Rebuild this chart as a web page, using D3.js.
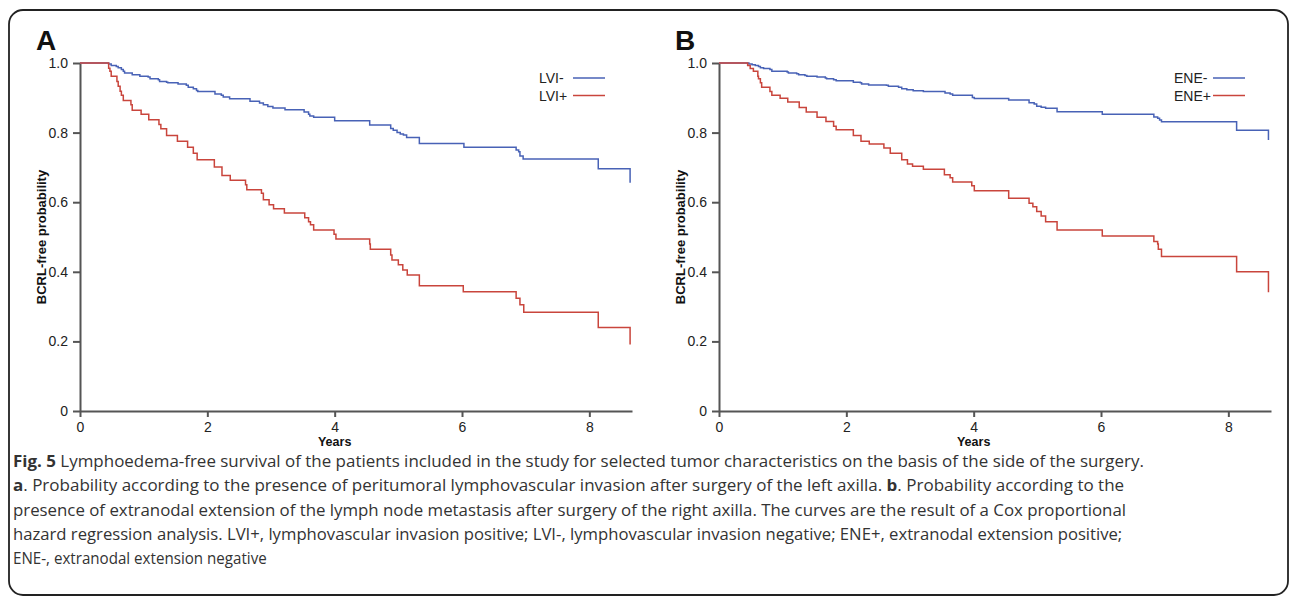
<!DOCTYPE html>
<html>
<head>
<meta charset="utf-8">
<script src="https://cdn.jsdelivr.net/npm/d3@7"></script>
<style>
  body { margin: 0; background: #fff; }
  svg { display: block; }
  .tick text { font-family: Arial, "Liberation Sans", sans-serif; font-size: 14px; fill: #222; }
  .domain, .tick line { stroke: #555; }
</style>
</head>
<body>
<svg id="chart" width="1290" height="597"></svg>
<script>
// tick values
var yearTicks = [0, 2, 4, 6, 8];
var probTicks = [0, 0.2, 0.4, 0.6, 0.8, 1.0];

// KM steps: [years, probability after the event]
var lviNeg = [[0,1],[0.45,0.997],[0.49,0.993],[0.57,0.990],[0.60,0.986],[0.65,0.981],[0.68,0.976],[0.70,0.971],[0.82,0.966],[0.94,0.962],[1.07,0.960],[1.10,0.955],[1.23,0.952],[1.25,0.947],[1.36,0.945],[1.38,0.943],[1.54,0.940],[1.67,0.936],[1.70,0.930],[1.78,0.926],[1.83,0.921],[1.85,0.918],[2.12,0.911],[2.22,0.907],[2.25,0.902],[2.35,0.897],[2.67,0.890],[2.82,0.885],[2.88,0.880],[2.95,0.875],[3.03,0.871],[3.22,0.866],[3.52,0.859],[3.59,0.853],[3.61,0.848],[3.67,0.844],[4.00,0.834],[4.55,0.822],[4.88,0.812],[4.92,0.807],[4.98,0.800],[5.03,0.796],[5.08,0.793],[5.13,0.786],[5.33,0.769],[6.03,0.758],[6.85,0.750],[6.89,0.745],[6.91,0.733],[6.96,0.724],[8.14,0.696],[8.64,0.656]];
var lviPos = [[0,1],[0.45,0.985],[0.47,0.976],[0.49,0.962],[0.58,0.947],[0.60,0.933],[0.63,0.919],[0.65,0.907],[0.68,0.892],[0.80,0.880],[0.82,0.864],[0.96,0.853],[1.08,0.837],[1.24,0.823],[1.27,0.811],[1.36,0.792],[1.53,0.775],[1.69,0.758],[1.78,0.741],[1.84,0.722],[2.11,0.701],[2.23,0.677],[2.36,0.663],[2.60,0.650],[2.62,0.636],[2.85,0.626],[2.88,0.607],[2.97,0.593],[3.04,0.581],[3.21,0.569],[3.53,0.555],[3.59,0.544],[3.62,0.535],[3.67,0.520],[3.99,0.508],[4.02,0.494],[4.55,0.480],[4.56,0.465],[4.88,0.448],[4.90,0.434],[5.00,0.420],[5.07,0.405],[5.14,0.391],[5.33,0.360],[6.02,0.343],[6.85,0.324],[6.91,0.305],[6.97,0.284],[8.14,0.240],[8.64,0.191]];
var eneNeg = [[0,1],[0.47,0.997],[0.52,0.995],[0.57,0.993],[0.62,0.990],[0.65,0.986],[0.70,0.984],[0.80,0.981],[0.83,0.976],[1.07,0.974],[1.09,0.971],[1.22,0.969],[1.25,0.966],[1.35,0.964],[1.38,0.962],[1.54,0.960],[1.67,0.957],[1.69,0.955],[1.80,0.952],[1.84,0.949],[2.11,0.945],[2.22,0.943],[2.24,0.940],[2.35,0.937],[2.63,0.936],[2.66,0.933],[2.82,0.930],[2.87,0.926],[2.95,0.923],[3.05,0.920],[3.21,0.918],[3.55,0.914],[3.63,0.911],[3.67,0.907],[3.98,0.901],[4.01,0.898],[4.55,0.894],[4.87,0.886],[4.95,0.882],[4.99,0.876],[5.06,0.873],[5.13,0.870],[5.31,0.860],[6.02,0.853],[6.83,0.845],[6.89,0.841],[6.92,0.836],[6.95,0.831],[8.13,0.807],[8.63,0.779]];
var enePos = [[0,1],[0.45,0.993],[0.49,0.984],[0.54,0.976],[0.61,0.962],[0.62,0.955],[0.65,0.943],[0.67,0.930],[0.80,0.918],[0.83,0.907],[0.96,0.899],[1.08,0.888],[1.26,0.872],[1.37,0.859],[1.54,0.844],[1.68,0.832],[1.80,0.818],[1.84,0.808],[2.11,0.792],[2.23,0.775],[2.36,0.767],[2.59,0.756],[2.69,0.741],[2.87,0.722],[2.96,0.710],[3.04,0.703],[3.21,0.695],[3.54,0.679],[3.63,0.670],[3.67,0.658],[3.97,0.647],[4.01,0.633],[4.55,0.611],[4.87,0.597],[4.93,0.587],[4.99,0.573],[5.06,0.560],[5.13,0.544],[5.31,0.520],[6.02,0.503],[6.83,0.487],[6.89,0.480],[6.90,0.465],[6.95,0.444],[8.13,0.400],[8.63,0.341]];

var blue = "#4862b6", red = "#c9453c";
var font = "Arial, 'Liberation Sans', sans-serif";

// caption lines, each a list of [text, bold]
var captionLines = [
  [["Fig. 5", true], [" Lymphoedema-free survival of the patients included in the study for selected tumor characteristics on the basis of the side of the surgery.", false]],
  [["a", true], [". Probability according to the presence of peritumoral lymphovascular invasion after surgery of the left axilla. ", false], ["b", true], [". Probability according to the", false]],
  [["presence of extranodal extension of the lymph node metastasis after surgery of the right axilla. The curves are the result of a Cox proportional", false]],
  [["hazard regression analysis. LVI+, lymphovascular invasion positive; LVI-, lymphovascular invasion negative; ENE+, extranodal extension positive;", false]],
  [["ENE-, extranodal extension negative", false]]
];
var captionWidths = [1132, 1112, 1114, 1110, 254];

var svg = d3.select("#chart");

// frame
svg.append("rect")
    .attr("x", 9).attr("y", 10)
    .attr("width", 1279).attr("height", 585)
    .attr("rx", 14)
    .attr("fill", "none")
    .attr("stroke", "#222")
    .attr("stroke-width", 1.8);

function panel(opts) {
  var x = d3.scaleLinear().domain([0, 8.67]).range([opts.left, opts.left + 552]);
  var y = d3.scaleLinear().domain([0, 1]).range([411, 63]);
  var fmt = function(d) { return d === 0 ? "0" : d3.format(".1f")(d); };

  var g = svg.append("g");

  g.append("g")
      .attr("transform", "translate(0,411)")
      .call(d3.axisBottom(x).tickValues(yearTicks).tickSize(6).tickSizeOuter(0).tickPadding(5)
        .tickFormat(function(d) { return String(d); }))
      .call(function(a) { a.selectAll("path, line").attr("stroke-width", 2); });

  g.append("g")
      .attr("transform", "translate(" + opts.left + ",0)")
      .call(d3.axisLeft(y).tickValues(probTicks).tickSize(7).tickSizeOuter(0).tickPadding(5).tickFormat(fmt))
      .call(function(a) { a.selectAll("path, line").attr("stroke-width", 2); });

  var line = d3.line()
      .x(function(d) { return x(d[0]); })
      .y(function(d) { return y(d[1]); })
      .curve(d3.curveStepAfter);

  g.append("path").datum(opts.neg)
      .attr("d", line).attr("fill", "none")
      .attr("stroke", blue).attr("stroke-width", 1.5);
  g.append("path").datum(opts.pos)
      .attr("d", line).attr("fill", "none")
      .attr("stroke", red).attr("stroke-width", 1.5);

  // panel letter
  g.append("text")
      .attr("x", opts.left - 44).attr("y", 50)
      .attr("font-family", font).attr("font-weight", "bold").attr("font-size", 28)
      .attr("fill", "#111")
      .text(opts.letter);

  // axis titles
  g.append("text")
      .attr("x", x(4)).attr("y", 446)
      .attr("text-anchor", "middle")
      .attr("font-family", font).attr("font-weight", "bold").attr("font-size", 12.5)
      .attr("fill", "#111")
      .text("Years");

  g.append("text")
      .attr("transform", "translate(" + (opts.left - 34) + "," + y(0.5) + ") rotate(-90)")
      .attr("text-anchor", "middle")
      .attr("font-family", font).attr("font-weight", "bold").attr("font-size", 13)
      .attr("fill", "#111")
      .text("BCRL-free probability");

  // legend
  var leg = g.append("g").attr("transform", "translate(" + opts.legendX + ",0)");
  [[opts.names[0], blue, 78], [opts.names[1], red, 95.5]].forEach(function(it) {
    leg.append("text")
        .attr("x", 0).attr("y", it[2] + 5)
        .attr("font-family", font).attr("font-size", 14).attr("fill", "#222")
        .text(it[0]);
    leg.append("line")
        .attr("x1", opts.legendGap).attr("x2", opts.legendGap + 32)
        .attr("y1", it[2]).attr("y2", it[2])
        .attr("stroke", it[1]).attr("stroke-width", 1.5);
  });
}

panel({ left: 80, letter: "A", neg: lviNeg, pos: lviPos, names: ["LVI-", "LVI+"], legendX: 539, legendGap: 34 });
panel({ left: 719, letter: "B", neg: eneNeg, pos: enePos, names: ["ENE-", "ENE+"], legendX: 1174, legendGap: 39 });

// caption
var baselines = [467, 491.3, 515.6, 539.9, 564.2];
captionLines.forEach(function(parts, i) {
  var t = svg.append("text")
      .attr("x", 0).attr("y", 0)
      .attr("font-family", "'Open Sans', sans-serif")
      .attr("font-size", 16)
      .attr("fill", "#333")
      .style("white-space", "pre");
  parts.forEach(function(p) {
    t.append("tspan").attr("font-weight", p[1] ? "bold" : "normal").text(p[0]);
  });
  var w = t.node().getComputedTextLength();
  var sx = captionWidths[i] / w;
  t.attr("transform", "translate(13," + baselines[i] + ") scale(" + sx + ",1)");
});
</script>
</body>
</html>
